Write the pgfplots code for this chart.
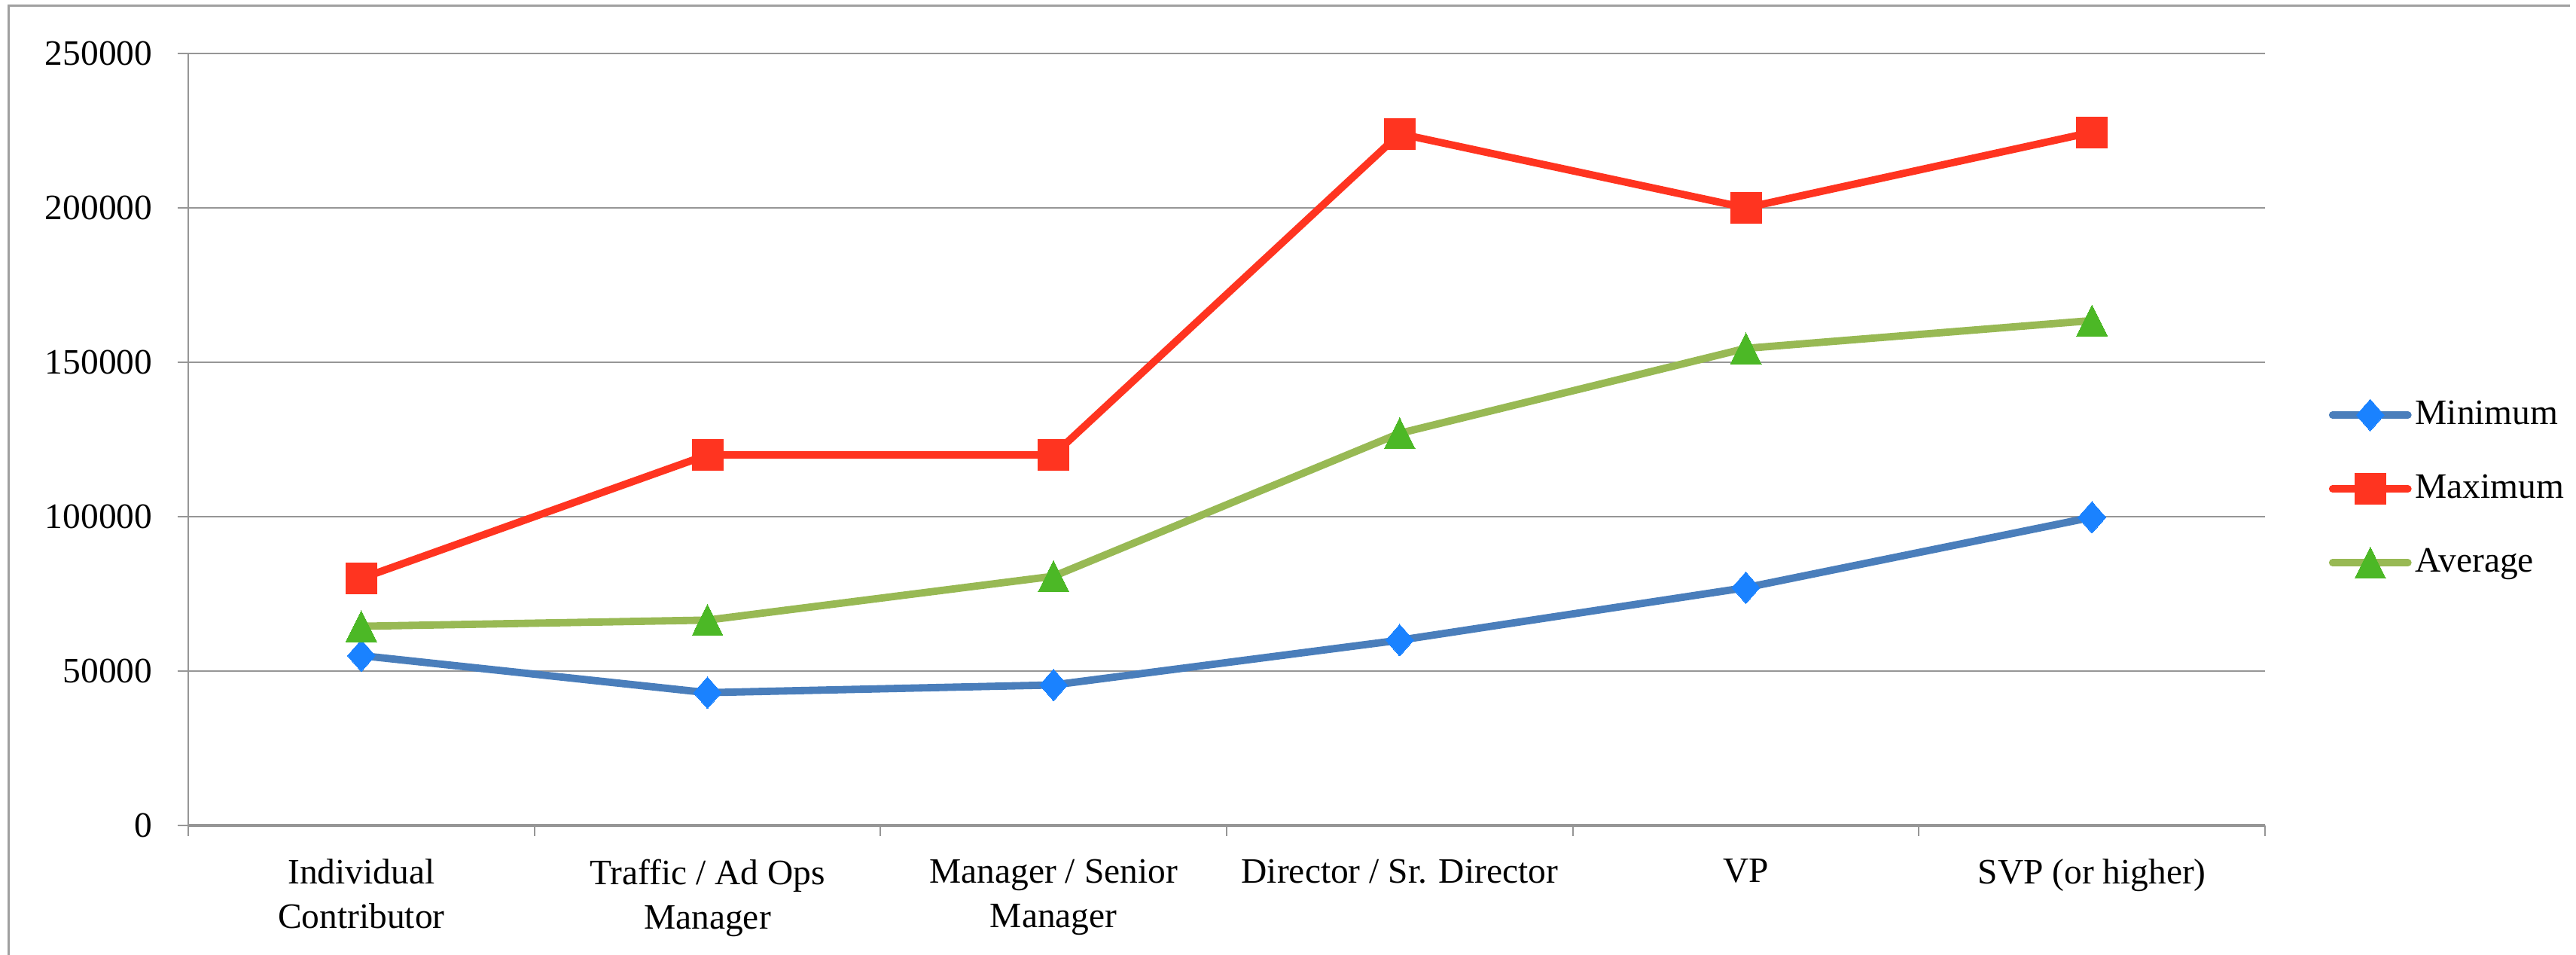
\documentclass[border=0pt]{standalone}
\usepackage{fontspec}
\setmainfont{Liberation Serif}
\usepackage{pgfplots}
\pgfplotsset{compat=1.18}
\definecolor{minline}{RGB}{74,126,187}
\definecolor{minmark}{RGB}{26,130,255}
\definecolor{maxline}{RGB}{255,52,32}
\definecolor{avgline}{RGB}{152,185,84}
\definecolor{avgmark}{RGB}{76,184,38}
\definecolor{gridgray}{RGB}{150,150,150}
\definecolor{framegray}{RGB}{160,160,160}
\newcommand{\chartfont}{\fontsize{13.5}{16.8}\selectfont}
\begin{document}
\begin{tikzpicture}
\useasboundingbox (0,0) rectangle (34.21cm,12.68cm);
\draw[color=framegray, line width=0.03cm] (0.11cm,0cm) -- (0.11cm,12.60cm) -- (34.13cm,12.60cm);
\begin{axis}[
  at={(2.50cm,1.72cm)}, anchor=south west,
  scale only axis, width=27.58cm, height=10.25cm,
  xmin=-0.5, xmax=5.5, ymin=0, ymax=250000,
  axis x line*=bottom, axis y line*=left,
  every outer x axis line/.append style={gridgray, line width=0.035cm},
  every outer y axis line/.append style={gridgray, line width=0.02cm},
  tick align=outside,
  major tick length=0.14cm,
  tick style={gridgray, line width=0.02cm},
  xtick={-0.5,0.5,1.5,2.5,3.5,4.5,5.5},
  xticklabels={},
  extra x ticks={0,1,2,3,4,5},
  extra x tick labels={Individual\\Contributor, Traffic / Ad Ops\\Manager, Manager / Senior\\Manager, Director / Sr. Director, VP, SVP (or higher)},
  extra x tick style={major tick length=0pt, xticklabel style={align=center, anchor=north, inner sep=0pt, yshift=-0.44cm, font=\chartfont}},
  ytick={0,50000,100000,150000,200000,250000},
  ymajorgrids,
  grid style={gridgray, line width=0.02cm},
  scaled y ticks=false,
  yticklabel style={/pgf/number format/fixed, /pgf/number format/1000 sep={}, /pgf/number format/assume math mode=true, font=\chartfont, inner sep=0pt, anchor=east, xshift=-0.33cm},
  legend style={at={(1.0305,0.436)}, anchor=west, draw=none, fill=none, inner sep=0pt, row sep=0.53cm, column sep=0.05cm, nodes={inner sep=0pt, text height=0.35cm, text depth=0.1cm}, font=\chartfont},
  legend cell align=left,
  legend image code/.code={\draw[mark repeat=2,mark phase=2,#1] plot coordinates {(0cm,0cm) (0.5cm,0cm) (1cm,0cm)};},
  clip=false,
]
\addplot[minline, line width=2.8pt, line cap=round, line join=round, mark=diamond*, mark size=2.1mm, mark options={fill=minmark, draw=minmark, line width=0pt, xscale=1.17, solid}]
  coordinates {(0,55000) (1,43000) (2,45500) (3,60000) (4,77000) (5,99800)};
\addlegendentry{Minimum}
\addplot[maxline, line width=2.8pt, line cap=round, line join=round, mark=square*, mark size=2.05mm, mark options={fill=maxline, draw=maxline, line width=0pt, solid}]
  coordinates {(0,80000) (1,120000) (2,120000) (3,224000) (4,200000) (5,224500)};
\addlegendentry{Maximum}
\addplot[avgline, line width=2.8pt, line cap=round, line join=round, mark=triangle*, mark size=2.75mm, mark options={fill=avgmark, draw=avgmark, line width=0pt, xscale=0.86, yshift=-0.69mm, solid}]
  coordinates {(0,64500) (1,66500) (2,80700) (3,127000) (4,154500) (5,163500)};
\addlegendentry{Average}
\end{axis}
\end{tikzpicture}
\end{document}
